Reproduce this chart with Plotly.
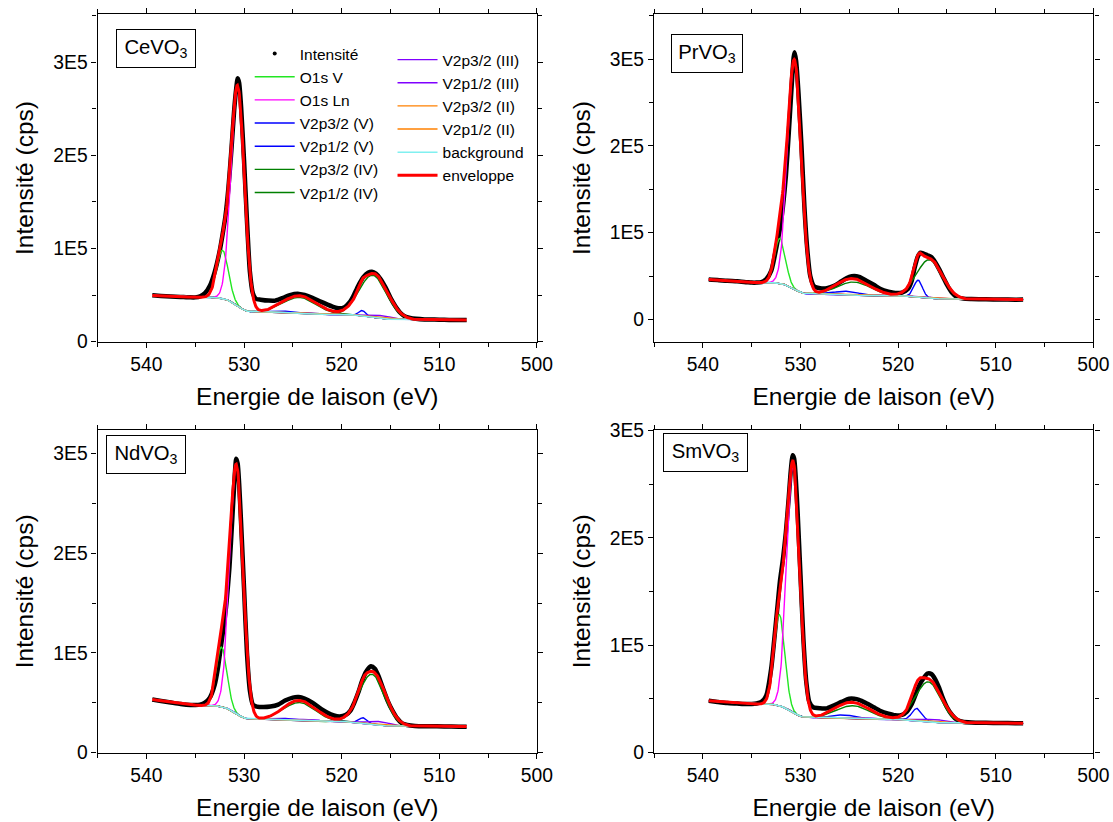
import numpy as np
import plotly.graph_objects as go

# ---------------- data ----------------
sample_labels = ["CeVO<sub>3</sub>", "PrVO<sub>3</sub>", "NdVO<sub>3</sub>", "SmVO<sub>3</sub>"]

component_names = ["O1s V", "O1s Ln", "V2p3/2 (V)", "V2p1/2 (V)", "V2p3/2 (IV)", "V2p1/2 (IV)",
                   "V2p3/2 (III)", "V2p1/2 (III)", "V2p3/2 (II)", "V2p1/2 (II)"]
component_colors = ["#22E622", "#FF00FF", "#0000FF", "#0000FF", "#008000", "#008000",
                    "#8000FF", "#8000FF", "#FF8000", "#FF8000"]

x_tick_vals = [500, 510, 520, 530, 540]
x_tick_text = ["500", "510", "520", "530", "540"]
y_tick_vals = [0, 100000, 200000, 300000]
y_tick_text = ["0", "1E5", "2E5", "3E5"]

# fitted peaks: centre (eV), height above background (cps), FWHM (eV)
ce_centers = [532.2, 530.65, 517.9, 525.3, 516.8, 524.3, 515.8, 523.3, 514.6, 521.8]
ce_heights = [52000, 235000, 5500, 1500, 45000, 17000, 3000, 1200, 1000, 800]
ce_fwhm = [1.4, 1.6, 0.8, 2.5, 3.3, 4.0, 2.5, 2.5, 2.5, 2.5]
# background: low-BE level, level above O1s edge, level at 539.4 eV
ce_bg_levels = [23300, 47500, 49500]

pr_centers = [532.1, 530.62, 517.95, 525.3, 516.8, 524.5, 516.0, 523.5, 514.8, 522.0]
pr_heights = [52000, 263000, 19000, 4000, 44000, 15000, 1200, 800, 800, 500]
pr_fwhm = [1.3, 1.65, 1.0, 3.0, 3.0, 4.0, 2.5, 2.5, 2.5, 2.5]
pr_bg_levels = [23000, 42500, 46000]

nd_centers = [532.3, 530.78, 517.8, 525.3, 516.9, 524.3, 516.0, 523.3, 514.8, 522.0]
nd_heights = [60000, 249000, 5000, 1500, 50000, 18000, 3500, 1500, 1000, 600]
nd_fwhm = [1.3, 1.6, 0.9, 2.5, 3.0, 3.8, 2.5, 3.0, 2.5, 2.5]
nd_bg_levels = [26000, 47000, 53000]

sm_centers = [532.16, 530.74, 518.06, 525.5, 516.9, 524.6, 516.0, 523.4, 514.8, 522.0]
sm_heights = [85000, 231000, 11000, 3000, 37000, 12000, 2500, 1200, 800, 500]
sm_fwhm = [1.3, 1.55, 1.2, 3.0, 3.0, 4.0, 3.0, 3.0, 2.5, 2.5]
sm_bg_levels = [27000, 45000, 48000]

bg_ramp_start = 534.5  # eV, where the high-BE background slope begins

# measured intensity (black points)
ce_energy = [539.4, 538.5, 537.5, 536.5, 535.5, 535.0, 534.5, 534.0, 533.5, 533.0, 532.5, 532.2, 531.9,
             531.6, 531.3, 531.0, 530.8, 530.65, 530.5, 530.3, 530.0, 529.7, 529.4, 529.1, 528.8, 528.3,
             527.5, 526.8, 526.0, 525.3, 524.5, 523.8, 523.0, 522.3, 521.5, 520.8, 520.3, 519.7, 519.2,
             518.8, 518.3, 517.8, 517.3, 516.9, 516.5, 516.0, 515.5, 515.0, 514.5, 514.0, 513.5, 513.0,
             512.4, 511.5, 510.5, 509.5, 508.5, 507.2]
ce_counts = [49700, 49000, 48500, 48000, 47500, 47500, 48500, 52000, 60000, 75000, 97000, 115000, 135000,
             165000, 205000, 250000, 272000, 283000, 278000, 252000, 195000, 130000, 75000, 52000, 46000, 45000,
             44000, 44000, 47000, 50000, 51500, 50000, 47000, 43600, 40000, 37000, 35800, 37000, 42000,
             49000, 60000, 69000, 74000, 75000, 73000, 67000, 58000, 47000, 38000, 31000, 27000, 25500,
             24500, 23800, 23600, 23400, 23200, 23300]

pr_energy = [539.4, 538.5, 537.5, 536.5, 535.5, 535.0, 534.5, 534.0, 533.5, 533.0, 532.7, 532.4, 532.1,
             531.8, 531.5, 531.2, 530.9, 530.7, 530.6, 530.45, 530.2, 529.9, 529.6, 529.3, 529.0, 528.6,
             528.0, 527.3, 526.5, 525.8, 525.0, 524.5, 524.0, 523.3, 522.5, 521.8, 521.0, 520.3, 519.6,
             519.0, 518.6, 518.3, 518.0, 517.7, 517.4, 517.0, 516.6, 516.2, 515.8, 515.4, 515.0, 514.5,
             514.0, 513.3, 512.5, 511.0, 509.5, 508.0, 507.2]
pr_counts = [46000, 45500, 44500, 44000, 43000, 42500, 42500, 43000, 46500, 56000, 70000, 87000, 105000,
             130000, 165000, 215000, 270000, 302000, 308000, 298000, 260000, 200000, 130000, 80000, 50000, 38000,
             36000, 36000, 39000, 44000, 49000, 50000, 49000, 45000, 40000, 35000, 32000, 30500, 31000,
             35000, 45000, 60000, 72000, 77000, 76000, 74000, 72000, 66000, 58000, 49000, 40000, 31000,
             26000, 24000, 23500, 23200, 23000, 22800, 23000]

nd_energy = [539.4, 538.5, 537.5, 536.5, 535.5, 535.0, 534.5, 534.0, 533.5, 533.0, 532.7, 532.4, 532.1,
             531.8, 531.5, 531.2, 531.0, 530.8, 530.65, 530.5, 530.3, 530.0, 529.7, 529.4, 529.1, 528.7,
             528.0, 527.3, 526.5, 525.8, 525.0, 524.4, 523.8, 523.0, 522.3, 521.5, 520.8, 520.2, 519.6,
             519.1, 518.7, 518.3, 517.9, 517.5, 517.0, 516.6, 516.2, 515.8, 515.3, 514.8, 514.3, 513.8,
             513.3, 512.5, 511.0, 509.5, 508.0, 507.2]
nd_counts = [53000, 51500, 50000, 48500, 47500, 47500, 48000, 50000, 55000, 68000, 83000, 104000, 125000,
             150000, 185000, 235000, 270000, 295000, 290000, 270000, 230000, 165000, 100000, 62000, 48000, 46000,
             45500, 46000, 48000, 52000, 55000, 55500, 54000, 50000, 45000, 40000, 37000, 36000, 37500,
             42000, 50000, 60000, 72000, 81000, 86500, 84000, 76000, 65000, 52000, 42000, 34000, 29000,
             27500, 26500, 26200, 26000, 25800, 25800]

sm_energy = [539.4, 538.5, 537.5, 536.5, 535.5, 535.0, 534.5, 534.0, 533.5, 533.0, 532.7, 532.4, 532.1,
             531.8, 531.5, 531.2, 531.0, 530.8, 530.65, 530.5, 530.3, 530.0, 529.7, 529.4, 529.1, 528.7,
             528.0, 527.3, 526.5, 525.8, 525.0, 524.5, 524.0, 523.3, 522.5, 521.8, 521.0, 520.3, 519.6,
             519.1, 518.6, 518.2, 517.8, 517.4, 517.0, 516.6, 516.2, 515.8, 515.4, 515.0, 514.5, 514.0,
             513.4, 512.5, 511.0, 509.5, 508.0, 507.2]
sm_counts = [48000, 47000, 46000, 45500, 45000, 45000, 45500, 47000, 53000, 78000, 104000, 132000, 160000,
             180000, 205000, 238000, 262000, 277000, 274000, 258000, 225000, 165000, 105000, 65000, 47000, 42000,
             41000, 41000, 44000, 47000, 50000, 50000, 49000, 46000, 42000, 38500, 36000, 34500, 35000,
             38000, 45000, 54000, 63000, 69000, 73500, 73000, 68000, 60000, 50000, 42000, 35000, 30500,
             28500, 27800, 27500, 27300, 27200, 27200]

y_ranges = [[-500, 352000], [-26000, 352000], [-500, 324000], [-500, 300800]]

# ---------------- build figure ----------------
grid = np.arange(507.2, 539.4001, 0.04)


def gauss(e, c, h, w):
    return h * np.exp(-4 * np.log(2) * (e - c) ** 2 / w ** 2)


def background(peaks_sum, levels):
    # Shirley-type step built from the fitted peak areas + linear slope on the high-BE side
    seg = 0.5 * (peaks_sum[1:] + peaks_sum[:-1]) * np.diff(grid)
    cum = np.concatenate([[0.0], np.cumsum(seg)])
    b = levels[0] + (levels[1] - levels[0]) * cum / cum[-1]
    ramp = np.clip((grid - bg_ramp_start) / (grid[-1] - bg_ramp_start), 0, 1)
    return b + (levels[2] - levels[1]) * ramp


panel_sets = [
    (ce_energy, ce_counts, ce_centers, ce_heights, ce_fwhm, ce_bg_levels),
    (pr_energy, pr_counts, pr_centers, pr_heights, pr_fwhm, pr_bg_levels),
    (nd_energy, nd_counts, nd_centers, nd_heights, nd_fwhm, nd_bg_levels),
    (sm_energy, sm_counts, sm_centers, sm_heights, sm_fwhm, sm_bg_levels),
]

# placement: target screenshot pixel -> page pixel (the photographed page comes out slightly shrunk)
SX, CX, SY, CY = 0.985, 1.5, 0.98, 7.0
W, H = 1128, 832


def px_x(x):
    return ((x - CX) / SX) / W


def px_y(y):
    return 1 - ((y - CY) / SY) / H


x_doms = [[px_x(99), px_x(538)], [px_x(655), px_x(1094)]]
y_doms = [[px_y(341), px_y(12)], [px_y(753), px_y(429)]]

fig = go.Figure()
FONT = "Arial, Liberation Sans, sans-serif"

for p, (en, ct, cen, hei, fw, lev) in enumerate(panel_sets):
    xa = "x" if p == 0 else f"x{p + 1}"
    ya = "y" if p == 0 else f"y{p + 1}"
    show = p == 0
    peaks = [gauss(grid, c, h, w) for c, h, w in zip(cen, hei, fw)]
    total = np.sum(peaks, axis=0)
    bg = background(total, lev)

    # measured points
    fig.add_trace(go.Scatter(x=en, y=ct, mode="lines",
                             line=dict(color="black", width=4.5, shape="spline", smoothing=0.6),
                             xaxis=xa, yaxis=ya, showlegend=False, hoverinfo="skip"))
    if show:
        fig.add_trace(go.Scatter(x=[None], y=[None], mode="markers", name="Intensité",
                                 marker=dict(color="black", size=4), legend="legend",
                                 xaxis=xa, yaxis=ya))
    for i, (nm, col) in enumerate(zip(component_names, component_colors)):
        fig.add_trace(go.Scatter(x=grid, y=bg + peaks[i], mode="lines", name=nm,
                                 line=dict(color=col, width=1.4), showlegend=show,
                                 legend="legend" if i < 6 else "legend2",
                                 xaxis=xa, yaxis=ya))
    fig.add_trace(go.Scatter(x=grid, y=bg, mode="lines", name="background",
                             line=dict(color="#80F0F0", width=1.6), showlegend=show, legend="legend2",
                             xaxis=xa, yaxis=ya))
    fig.add_trace(go.Scatter(x=grid, y=bg + total, mode="lines", name="enveloppe",
                             line=dict(color="#FF0000", width=3), showlegend=show, legend="legend2",
                             xaxis=xa, yaxis=ya))

    col_i = p % 2
    row_i = p // 2
    xkey = "xaxis" if p == 0 else f"xaxis{p + 1}"
    ykey = "yaxis" if p == 0 else f"yaxis{p + 1}"
    fig.update_layout(**{
        xkey: dict(domain=x_doms[col_i], anchor=ya, range=[545, 500], tickvals=x_tick_vals,
                   ticktext=x_tick_text, ticks="outside", ticklen=5, tickwidth=1, tickcolor="black",
                   minor=dict(dtick=5, tick0=500, ticks="outside", ticklen=4, tickcolor="black"),
                   showline=True, linecolor="black", linewidth=1.2, mirror="allticks",
                   showgrid=False, zeroline=False,
                   tickfont=dict(size=19.3, color="black", family=FONT),
                   title=dict(text="Energie de laison (eV)", font=dict(size=24.5, color="black", family=FONT),
                              standoff=13)),
        ykey: dict(domain=y_doms[row_i], anchor=xa, range=y_ranges[p], tickvals=y_tick_vals,
                   ticktext=y_tick_text, ticks="outside", ticklen=5, tickwidth=1, tickcolor="black",
                   minor=dict(dtick=50000, tick0=0, ticks="outside", ticklen=4, tickcolor="black"),
                   showline=True, linecolor="black", linewidth=1.2, mirror="allticks",
                   showgrid=False, zeroline=False,
                   tickfont=dict(size=19.3, color="black", family=FONT),
                   title=dict(text="Intensité (cps)", font=dict(size=24.5, color="black", family=FONT),
                              standoff=12)),
    })

label_pos = [(157, 47, 68), (708, 52, 60), (147, 454, 68), (706.5, 452, 73)]
for txt, (px, py, wd) in zip(sample_labels, label_pos):
    fig.add_annotation(x=px_x(px), y=px_y(py), xref="paper", yref="paper", xanchor="center", yanchor="middle",
                       text=txt, showarrow=False,
                       font=dict(size=20.3, color="black", family=FONT), bordercolor="black", borderwidth=1,
                       borderpad=5, width=wd, height=27, bgcolor="white", align="center")

fig.update_layout(
    width=W, height=H, margin=dict(l=0, r=0, t=0, b=0),
    paper_bgcolor="white", plot_bgcolor="white",
    font=dict(family=FONT, color="black"),
    legend=dict(x=px_x(251), y=px_y(35.1), xanchor="left", yanchor="top", bgcolor="rgba(0,0,0,0)",
                font=dict(size=15.5, color="black", family=FONT), tracegroupgap=0, itemwidth=40),
    legend2=dict(x=px_x(393.7), y=px_y(41.1), xanchor="left", yanchor="top", bgcolor="rgba(0,0,0,0)",
                 font=dict(size=15.5, color="black", family=FONT), tracegroupgap=0, itemwidth=40),
)

fig.write_html("out.html", config={"displayModeBar": False},
               post_script="document.body.style.margin='0';document.body.style.overflow='hidden';")
